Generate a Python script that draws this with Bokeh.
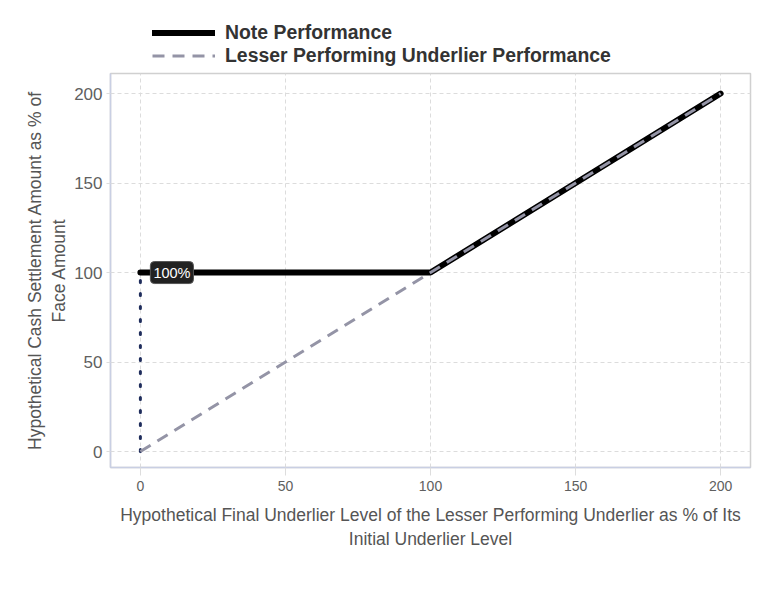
from bokeh.plotting import figure
from bokeh.layouts import column
from bokeh.models import Legend, LegendItem, Label, FixedTicker, Range1d
from bokeh.embed import file_html
from bokeh.resources import INLINE

underlier = [0, 100, 200]
note_perf = [100, 100, 200]
lesser_x = [0, 200]
lesser_y = [0, 200]
floor_x = [0, 0]
floor_y = [0, 100]
x_ticks = [0, 50, 100, 150, 200]
y_ticks = [0, 50, 100, 150, 200]
floor_label = "100%"
legend_labels = ["Note Performance", "Lesser Performing Underlier Performance"]

FONT = "Liberation Sans"
NOTE_STYLE = dict(line_color="black", line_width=6, line_cap="round", line_join="round")
LESSER_STYLE = dict(line_color="#9494a6", line_width=3, line_dash="12 8")

p = figure(width=777, height=522, output_backend="svg", toolbar_location=None,
           x_range=Range1d(-10.3, 210.3), y_range=Range1d(-8.9, 211.2),
           min_border_left=110, min_border_right=27, min_border_bottom=126, min_border_top=2)
p.background_fill_color = "white"
p.border_fill_color = "white"
p.outline_line_color = "#d0d0d0"
p.outline_line_width = 1.5

for ax in (p.xaxis[0], p.yaxis[0]):
    ax.axis_line_color = "#c9cfe3"
    ax.axis_line_width = 1.5
    ax.major_tick_line_color = "#dddddd"
    ax.major_tick_in = 0
    ax.minor_tick_line_color = None
    ax.major_label_text_font = FONT
    ax.major_label_text_color = "#606060"
    ax.axis_label_text_font = FONT
    ax.axis_label_text_color = "#555555"
    ax.axis_label_text_font_style = "normal"
    ax.axis_label_text_font_size = "17.5px"

p.xaxis.ticker = FixedTicker(ticks=x_ticks)
p.yaxis.ticker = FixedTicker(ticks=y_ticks)
p.xaxis.major_tick_out = 8
p.yaxis.major_tick_out = 4
p.xaxis.major_label_text_font_size = "14px"
p.yaxis.major_label_text_font_size = "17px"
p.yaxis.major_label_standoff = 4
p.xaxis.major_label_standoff = 5
p.xaxis.axis_label = "Hypothetical Final Underlier Level of the Lesser Performing Underlier as % of Its\nInitial Underlier Level"
p.yaxis.axis_label = "Hypothetical Cash Settlement Amount as % of\nFace Amount"
p.xaxis.axis_label_standoff = 11
p.yaxis.axis_label_standoff = 2

p.xgrid.ticker = FixedTicker(ticks=x_ticks)
p.ygrid.ticker = FixedTicker(ticks=y_ticks)
for g in (p.xgrid[0], p.ygrid[0]):
    g.grid_line_color = "#dcdcdc"
    g.grid_line_dash = "4 3"
    g.grid_line_width = 1

p.line(floor_x, floor_y, line_color="#1f2d5c", line_width=3, line_dash="2 11", line_cap="round")
p.line(underlier, note_perf, **NOTE_STYLE)
p.line(lesser_x, lesser_y, **LESSER_STYLE)

lbl = Label(x=0, y=100, x_offset=10, text=floor_label, text_font=FONT,
            text_font_size="14.5px", text_color="white", text_baseline="middle",
            background_fill_color="#222222", background_fill_alpha=1.0,
            border_line_color="#555555", border_line_width=1, padding=3, border_radius=4)
p.add_layout(lbl)

# legend strip above the plot (its lines sit outside this strip's visible ranges)
lf = figure(width=777, height=71, output_backend="svg", toolbar_location=None,
            min_border=0, x_range=Range1d(-3, -2), y_range=Range1d(-3, -2))
lf.axis.visible = False
lf.grid.visible = False
lf.outline_line_color = None
lf.border_fill_color = "white"
r_note = lf.line(underlier, note_perf, **NOTE_STYLE)
r_lesser = lf.line(lesser_x, lesser_y, **LESSER_STYLE)
legend = Legend(items=[LegendItem(label=legend_labels[0], renderers=[r_note]),
                       LegendItem(label=legend_labels[1], renderers=[r_lesser])],
                location=(42, 4), orientation="vertical", border_line_color=None,
                background_fill_alpha=0, label_text_font=FONT, label_text_font_style="bold",
                label_text_font_size="19.4px", label_text_color="#333333",
                glyph_width=63, glyph_height=19, spacing=0, padding=2, margin=0,
                label_standoff=10)
lf.add_layout(legend)

layout = column(lf, p, spacing=0)
open("out.html", "w").write(file_html(layout, INLINE))
